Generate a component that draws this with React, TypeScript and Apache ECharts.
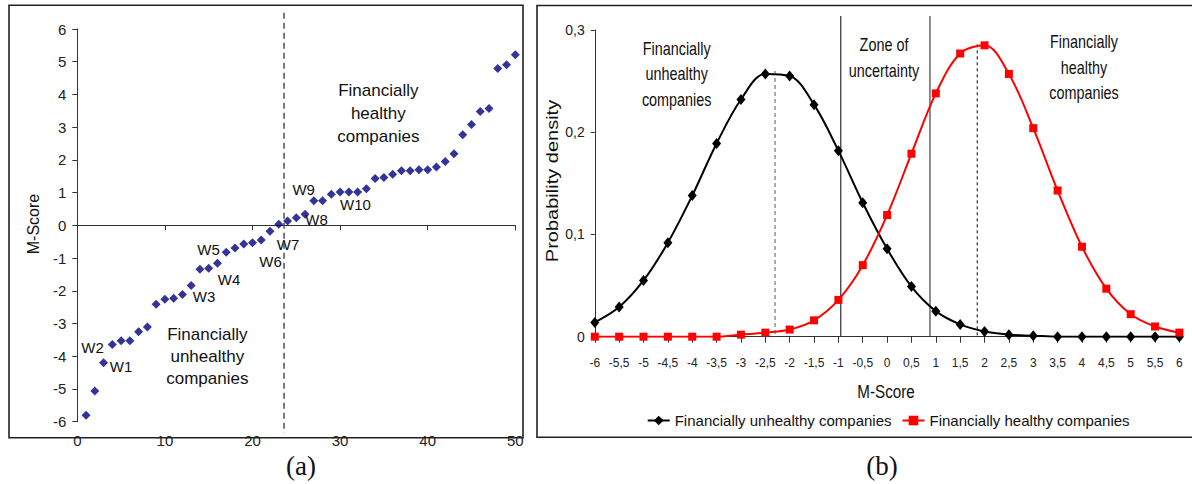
import React, { useEffect, useRef } from 'react';
import * as echarts from 'echarts';

// ---------- Panel (a): sorted M-Scores of 50 companies ----------
const companyRanks = [
  1, 2, 3, 4, 5, 6, 7, 8, 9, 10, 11, 12, 13, 14, 15, 16, 17, 18, 19, 20, 21, 22, 23, 24, 25,
  26, 27, 28, 29, 30, 31, 32, 33, 34, 35, 36, 37, 38, 39, 40, 41, 42, 43, 44, 45, 46, 47, 48, 49, 50,
];
const mScores = [
  -5.8, -5.06, -4.2, -3.64, -3.53, -3.53, -3.25, -3.11, -2.41, -2.26,
  -2.23, -2.11, -1.84, -1.34, -1.31, -1.16, -0.82, -0.69, -0.57, -0.53,
  -0.45, -0.18, 0.03, 0.13, 0.23, 0.34, 0.75, 0.75, 0.95, 1.02,
  1.02, 1.02, 1.12, 1.43, 1.46, 1.56, 1.67, 1.67, 1.7, 1.7,
  1.78, 1.95, 2.19, 2.77, 3.08, 3.48, 3.57, 4.79, 4.91, 5.21,
];
const cutoffRank = 23.6;

// ---------- Panel (b): probability densities ----------
const densityX = [
  -6, -5.5, -5, -4.5, -4, -3.5, -3, -2.5, -2, -1.5, -1, -0.5, 0,
  0.5, 1, 1.5, 2, 2.5, 3, 3.5, 4, 4.5, 5, 5.5, 6,
];
const unhealthyDensity = [
  0.014, 0.029, 0.055, 0.092, 0.138, 0.189, 0.232, 0.257, 0.255, 0.227, 0.182, 0.131, 0.086,
  0.049, 0.025, 0.012, 0.005, 0.002, 0.001, 0, 0, 0, 0, 0, 0,
];
const healthyDensity = [
  0, 0, 0, 0, 0, 0, 0.002, 0.004, 0.007, 0.016, 0.036, 0.07, 0.119,
  0.179, 0.238, 0.277, 0.285, 0.257, 0.204, 0.143, 0.088, 0.047, 0.022, 0.01, 0.004,
];
const uncertaintyBounds = [-0.95, 0.88];
const unhealthyPeak = [-2.3, 0.26];
const healthyPeak = [1.85, 0.286];
const seriesNames = ['Financially unhealthy companies', 'Financially healthy companies'];

const SANS = "'Liberation Sans', Arial, sans-serif";
const SERIF = "'Liberation Serif', 'Times New Roman', serif";

const comma = (v: number) => String(v).replace('.', ',');

export default function App() {
  const ref = useRef<HTMLDivElement>(null);
  useEffect(() => {
    if (!ref.current) return;
    const chart = echarts.init(ref.current, undefined, { renderer: 'svg' });
    chart.setOption({
      animation: false,
      backgroundColor: '#fff',
      grid: [
        { left: 77.3, top: 29, width: 438, height: 392.7 },
        { left: 594.8, top: 30, width: 584.6, height: 306.7 },
      ],
      xAxis: [
        {
          type: 'value', gridIndex: 0, min: 0, max: 50, interval: 10,
          axisLine: { onZero: true, lineStyle: { color: '#333', width: 1 } },
          axisTick: { show: true, length: 5, lineStyle: { color: '#333' } },
          axisLabel: { fontSize: 15, color: '#222', margin: 11, fontFamily: SANS },
          splitLine: { show: false },
        },
        {
          type: 'value', gridIndex: 1, min: -6, max: 6, interval: 0.5,
          axisLine: { onZero: true, lineStyle: { color: '#333', width: 1 } },
          axisTick: { show: true, length: 6, lineStyle: { color: '#333' } },
          axisLabel: { fontSize: 12, color: '#222', margin: 20, fontFamily: SANS, formatter: comma },
          splitLine: { show: false },
        },
      ],
      yAxis: [
        {
          type: 'value', gridIndex: 0, min: -6, max: 6, interval: 1,
          axisLine: { show: true, onZero: false, lineStyle: { color: '#333', width: 1 } },
          axisTick: { show: true, length: 5, lineStyle: { color: '#333' } },
          axisLabel: { fontSize: 15, color: '#222', margin: 11, fontFamily: SANS },
          splitLine: { show: false },
        },
        {
          type: 'value', gridIndex: 1, min: 0, max: 0.3, interval: 0.1,
          axisLine: { show: true, onZero: false, lineStyle: { color: '#333', width: 1 } },
          axisTick: { show: true, length: 4, lineStyle: { color: '#333' } },
          axisLabel: { fontSize: 14, color: '#222', margin: 10, fontFamily: SANS, formatter: comma },
          splitLine: { show: false },
        },
      ],
      legend: {
        data: seriesNames,
        left: 641.7, top: 408, width: 540,
        itemWidth: 22, itemHeight: 12, itemGap: 10,
        textStyle: { fontFamily: SANS, fontSize: 15, color: '#111' },
      },
      series: [
        {
          type: 'scatter', xAxisIndex: 0, yAxisIndex: 0,
          data: companyRanks.map((r, i) => [r, mScores[i]]),
          symbol: 'diamond', symbolSize: 9,
          itemStyle: { color: '#000080' },
        },
        {
          name: seriesNames[0], type: 'line', xAxisIndex: 1, yAxisIndex: 1,
          data: densityX.map((x, i) => [x, unhealthyDensity[i]]),
          smooth: 0.35, symbol: 'diamond', symbolSize: [9, 11],
          lineStyle: { color: '#000', width: 2 }, itemStyle: { color: '#000' },
        },
        {
          name: seriesNames[1], type: 'line', xAxisIndex: 1, yAxisIndex: 1,
          data: densityX.map((x, i) => [x, healthyDensity[i]]),
          smooth: 0.35, symbol: 'rect', symbolSize: 8,
          lineStyle: { color: '#ff0000', width: 2 }, itemStyle: { color: '#ff0000' },
        },
      ],
    });

    const pa = (p: number[]) => chart.convertToPixel({ xAxisIndex: 0, yAxisIndex: 0 }, p) as number[];
    const pb = (p: number[]) => chart.convertToPixel({ xAxisIndex: 1, yAxisIndex: 1 }, p) as number[];

    const cut = pa([cutoffRank, 0]);
    const b0 = pb([uncertaintyBounds[0], 0]);
    const b1 = pb([uncertaintyBounds[1], 0]);
    const uTop = pb([unhealthyPeak[0], unhealthyPeak[1]]);
    const hTop = pb([healthyPeak[0], healthyPeak[1]]);

    const txt = (text: string, x: number, y: number, font: string, size: number, lh?: number, extra: any = {}) => ({
      type: 'text', x, y, silent: true, ...extra,
      style: { text, fontFamily: font, fontSize: size, fill: '#111', align: 'center', verticalAlign: lh ? 'top' : 'middle', lineHeight: lh || size + 2 },
    });
    const narrow = { scaleX: 0.8 };

    chart.setOption({
      graphic: {
        elements: [
          { type: 'rect', shape: { x: 9, y: 5.3, width: 514, height: 432.4 }, style: { fill: 'none', stroke: '#222', lineWidth: 1.6 } },
          { type: 'rect', shape: { x: 537, y: 5.5, width: 670, height: 431.8 }, style: { fill: 'none', stroke: '#222', lineWidth: 1.6 } },
          { type: 'line', shape: { x1: cut[0], y1: 12.7, x2: cut[0], y2: 433 }, style: { stroke: '#222', lineWidth: 1.2, lineDash: [6, 4] } },
          { type: 'line', shape: { x1: b0[0], y1: 16, x2: b0[0], y2: b0[1] }, style: { stroke: '#000', lineWidth: 1 } },
          { type: 'line', shape: { x1: b1[0], y1: 16, x2: b1[0], y2: b1[1] }, style: { stroke: '#666', lineWidth: 1.5 } },
          { type: 'line', shape: { x1: uTop[0], y1: uTop[1], x2: uTop[0], y2: b0[1] }, style: { stroke: '#777', lineWidth: 1.2, lineDash: [4, 3] } },
          { type: 'line', shape: { x1: hTop[0], y1: hTop[1], x2: hTop[0], y2: b0[1] }, style: { stroke: '#000', lineWidth: 1, lineDash: [3, 3] } },
          // panel (a) annotations
          txt('Financially\nhealthy\ncompanies', 378.3, 79.4, SANS, 17, 22.7),
          txt('Financially\nunhealthy\ncompanies', 207.3, 323, SANS, 17, 22.2),
          txt('W1', 121, 366, SANS, 15),
          txt('W2', 92.5, 347, SANS, 15),
          txt('W3', 204, 296, SANS, 15),
          txt('W4', 229, 279, SANS, 15),
          txt('W5', 208.5, 249, SANS, 15),
          txt('W6', 270.5, 261, SANS, 15),
          txt('W7', 288, 244.3, SANS, 15),
          txt('W8', 316.5, 219.7, SANS, 15),
          txt('W9', 303.7, 189.7, SANS, 15),
          txt('W10', 355.5, 204, SANS, 15),
          txt('M-Score', 33.5, 224, SANS, 16, undefined, { rotation: Math.PI / 2 }),
          // panel (b) annotations
          txt('Financially\nunhealthy\ncompanies', 676.7, 35.7, SANS, 18, 25.3, narrow),
          txt('Zone of\nuncertainty', 884, 31.5, SANS, 18, 25.7, narrow),
          txt('Financially\nhealthy\ncompanies', 1084, 29, SANS, 18, 25.3, narrow),
          txt('Probability density', 553, 181, SANS, 20, undefined, { rotation: Math.PI / 2, scaleY: 0.8 }),
          txt('M-Score', 886, 391.7, SANS, 19, undefined, narrow),
          txt('(a)', 301, 466, SERIF, 27),
          txt('(b)', 882, 466, SERIF, 27),
        ],
      },
    });

    return () => chart.dispose();
  }, []);
  return <div ref={ref} style={{ position: 'absolute', left: 0, top: 0, width: 1192, height: 484 }} />;
}
